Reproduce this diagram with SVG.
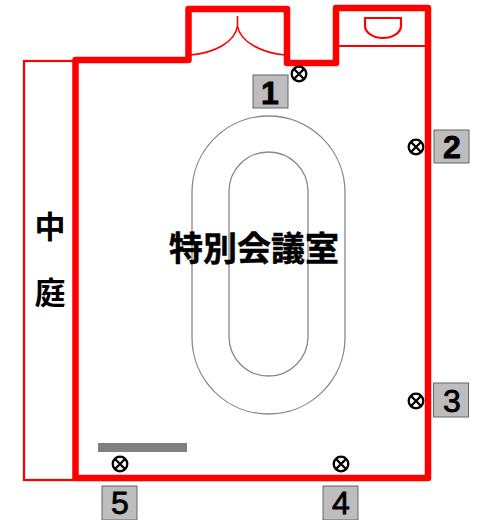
<svg xmlns="http://www.w3.org/2000/svg" width="479" height="520" viewBox="0 0 479 520">
<style>
.wall{fill:none;stroke:#f00;stroke-width:6.500;stroke-linejoin:round}
.thin{fill:none;stroke:#f00;stroke-width:2.200}
.door{fill:none;stroke:#f00;stroke-width:1.600}
.track{fill:none;stroke:#888;stroke-width:1.300}
.camc{fill:#fff;stroke:#000;stroke-width:2.300}
.camx{stroke:#000;stroke-width:2.300;fill:none}
.tag rect{fill:#bdbdbd;stroke:#666;stroke-width:1}
.tag text{font-family:"Liberation Sans",Arial,sans-serif;font-size:32px;text-anchor:middle;fill:#000;stroke:#000;stroke-width:.8}
.jp{font-family:"Noto Sans CJK JP",sans-serif;font-weight:700;fill:#000;text-anchor:middle}
</style>
<defs>
<g id="c"><circle class="camc" r="7.300"/><path class="camx" d="M-5-5L5 5M-5 5L5-5"/></g>
</defs>
<g id="courtyard"><rect class="thin" x="24" y="61" width="51" height="419"/><text class="jp" x="50" y="238" font-size="31">中</text><text class="jp" x="50" y="304" font-size="31">庭</text></g>
<g id="room">
<path class="wall" d="M75.500 478V60H188.500V9H287V63H336V8H428V478Z"/>
<path class="thin" d="M336 46H428"/>
<path class="door" d="M237.500 16V26C235 42 215 53 190 55M237.500 26C240 42 262 53 285 55"/>
<path class="thin" d="M365 18H401V26C401 33 392 38 383 38C374 38 365 33 365 26Z"/>
</g>
<g id="track"><rect class="track" x="192" y="116" width="153" height="298" rx="76.500"/><rect class="track" x="229" y="152" width="79" height="224" rx="39.500"/></g>
<g id="bar"><rect x="98" y="443" width="89" height="9" fill="#808080"/></g>
<g id="label"><text class="jp" x="254" y="261" font-size="34" stroke="#000" stroke-width=".5">特別会議室</text></g>
<g id="cameras">
<use href="#c" x="299" y="74"/><use href="#c" x="416" y="147"/><use href="#c" x="416" y="401"/><use href="#c" x="341" y="464"/><use href="#c" x="120" y="464"/>
</g>
<g id="tag1" class="tag"><rect x="253" y="75" width="35" height="33"/><text x="270" y="104" font-weight="700">1</text></g>
<g id="tag2" class="tag"><rect x="434" y="130" width="35" height="33"/><text x="452" y="158" font-weight="700">2</text></g>
<g id="tag3" class="tag"><rect x="433.500" y="383" width="35" height="34"/><text x="452" y="412">3</text></g>
<g id="tag4" class="tag"><rect x="323" y="486" width="35" height="34"/><text x="341" y="514">4</text></g>
<g id="tag5" class="tag"><rect x="102" y="486" width="35" height="34"/><text x="120" y="514">5</text></g>
</svg>
